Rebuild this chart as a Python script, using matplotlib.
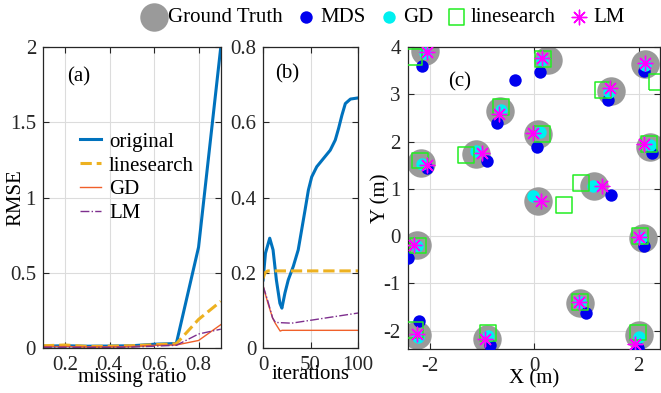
import numpy as np
import matplotlib
matplotlib.use('Agg')
import matplotlib.pyplot as plt

plt.rcParams['font.family'] = ['Liberation Serif', 'DejaVu Serif']
plt.rcParams['font.size'] = 15
plt.rcParams['axes.unicode_minus'] = False

# (a) RMSE vs missing ratio
ratio = [0.1, 0.2, 0.3, 0.4, 0.5, 0.6, 0.7, 0.8, 0.9]
rmse_original = [0.012, 0.015, 0.012, 0.013, 0.015, 0.025, 0.03, 0.67, 2.0]
rmse_linesearch = [0.015, 0.02, 0.01, 0.012, 0.015, 0.022, 0.028, 0.19, 0.31]
rmse_gd = [0.01, 0.01, 0.008, 0.008, 0.01, 0.018, 0.02, 0.05, 0.155]
rmse_lm = [0.005, 0.005, 0.004, 0.004, 0.006, 0.012, 0.018, 0.093, 0.125]

# (b) RMSE vs iterations
it_orig = [0, 2.5, 7, 10.5, 14, 17.7, 19.8, 23, 26.5, 31.8, 37, 40.6, 44.2, 47.7,
           51.2, 56.5, 63.6, 70.7, 76, 79.5, 83, 86.6, 92, 100]
val_orig = [0.181, 0.252, 0.292, 0.261, 0.181, 0.119, 0.106, 0.146, 0.181, 0.217,
            0.261, 0.314, 0.367, 0.42, 0.455, 0.482, 0.504, 0.526, 0.553, 0.584,
            0.619, 0.65, 0.662, 0.665]
it_ls = [0, 2, 5, 100]
val_ls = [0.185, 0.2, 0.205, 0.205]
it_gd = [0, 5, 10, 13, 18, 20, 100]
val_gd = [0.165, 0.12, 0.08, 0.065, 0.045, 0.047, 0.047]
it_lm = [0, 5, 10, 13, 30, 100]
val_lm = [0.165, 0.125, 0.08, 0.068, 0.066, 0.093]

# (c) node positions
gt_x = [-2.09, 0.26, 1.46, 2.12, -0.66, 0.08, -1.11, -2.17, 2.21, 1.14, 0.08,
        -2.25, 2.08, 0.87, -2.25, -0.91, 2.0]
gt_y = [3.92, 3.72, 3.07, 3.65, 2.64, 2.17, 1.74, 1.54, 1.88, 1.06, 0.74,
        -0.18, -0.05, -1.42, -2.09, -2.17, -2.09]
mds_x = [-2.15, 0.10, 1.42, 2.10, -0.72, 0.05, -0.91, -2.05, 2.25, 1.46, -0.37,
         -2.41, 2.10, 0.99, -2.20, -0.85, 1.99]
mds_y = [3.61, 3.47, 2.89, 3.49, 2.40, 1.88, 1.58, 1.44, 1.76, 0.88, 3.31,
         -0.47, -0.20, -1.62, -1.79, -2.30, -2.36]
gd_x = [-2.10, 0.15, 1.43, 2.12, -0.64, 0.11, -1.11, -2.14, 2.21, 1.12, -0.02,
        -2.25, 2.05, 0.88, -2.22, -0.88, 2.0]
gd_y = [3.88, 3.73, 3.05, 3.63, 2.66, 2.20, 1.80, 1.53, 1.93, 1.06, 0.85,
        -0.20, -0.05, -1.40, -2.13, -2.12, -2.14]
ls_x = [-2.31, 0.17, 1.32, 2.35, -0.64, 0.15, -1.31, -2.19, 2.20, 0.89, 0.57,
        -2.23, 2.03, 0.87, -2.28, -0.88, 1.99]
ls_y = [3.79, 3.75, 3.10, 3.26, 2.74, 2.17, 1.71, 1.60, 1.95, 1.12, 0.65,
        -0.20, 0.0, -1.39, -1.99, -2.06, -2.04]
lm_x = [-2.06, 0.14, 1.45, 2.12, -0.67, -0.02, -1.0, -2.06, 2.10, 1.30, 0.13,
        -2.31, 2.0, 0.86, -2.25, -0.94, 1.93]
lm_y = [3.89, 3.77, 3.14, 3.66, 2.59, 2.18, 1.76, 1.51, 1.95, 1.06, 0.74,
        -0.18, -0.01, -1.39, -2.07, -2.18, -2.28]

c_blue = '#0072BD'
c_yellow = '#EDB120'
c_red = '#F0602A'
c_purple = '#7E2F8E'
grid_kw = dict(color='#dcdcdc', linewidth=0.8)


def style_axes(ax):
    ax.tick_params(direction='in', top=True, right=True, length=4, width=0.8,
                   colors='#262626')
    ax.tick_params(axis='x', pad=6)
    ax.tick_params(axis='y', pad=5)
    for s in ax.spines.values():
        s.set_color('#262626')
        s.set_linewidth(0.9)
    ax.grid(True, **grid_kw)
    ax.set_axisbelow(True)


fig = plt.figure(figsize=(6.61, 3.93), dpi=100)
ax1 = fig.add_axes([0.065, 0.1145, 0.269, 0.7655])
ax2 = fig.add_axes([0.398, 0.1145, 0.1437, 0.7655])
ax3 = fig.add_axes([0.617, 0.112, 0.381, 0.768])

# (a)
ax1.plot(ratio, rmse_original, color=c_blue, lw=2.2, label='original')
ax1.plot(ratio, rmse_linesearch, color=c_yellow, lw=2.2, ls='--', label='linesearch')
ax1.plot(ratio, rmse_gd, color=c_red, lw=1.0, label='GD')
ax1.plot(ratio, rmse_lm, color=c_purple, lw=1.0, ls='-.', label='LM')
ax1.set_xlim(0.1, 0.9)
ax1.set_ylim(0, 2)
ax1.set_xticks([0.2, 0.4, 0.6, 0.8])
ax1.set_xticklabels(['0.2', '0.4', '0.6', '0.8'])
ax1.set_yticks([0, 0.5, 1, 1.5, 2])
ax1.set_yticklabels(['0', '0.5', '1', '1.5', '2'])
ax1.set_xlabel('missing ratio')
ax1.xaxis.set_label_coords(0.5, -0.068)
ax1.set_ylabel('RMSE')
ax1.yaxis.set_label_coords(-0.1, 0.5)
ax1.text(0.26, 1.8, '(a)', ha='center', va='center')
ax1.legend(loc='upper left', bbox_to_anchor=(0.16, 0.745), frameon=False,
           handlelength=1.0, handletextpad=0.4, labelspacing=0.2, borderaxespad=0)
style_axes(ax1)

# (b)
ax2.plot(it_orig, val_orig, color=c_blue, lw=2.2)
ax2.plot(it_ls, val_ls, color=c_yellow, lw=2.2, ls='--')
ax2.plot(it_gd, val_gd, color=c_red, lw=1.0)
ax2.plot(it_lm, val_lm, color=c_purple, lw=1.0, ls='-.')
ax2.set_xlim(0, 100)
ax2.set_ylim(0, 0.8)
ax2.set_xticks([0, 50, 100])
ax2.set_yticks([0, 0.2, 0.4, 0.6, 0.8])
ax2.set_yticklabels(['0', '0.2', '0.4', '0.6', '0.8'])
ax2.set_xlabel('iterations')
ax2.xaxis.set_label_coords(0.5, -0.055)
ax2.text(25, 0.73, '(b)', ha='center', va='center')
style_axes(ax2)

# (c)
h_gt = ax3.scatter(gt_x, gt_y, s=420, color='#9a9a9a', lw=0, label='Ground Truth', zorder=2)
h_mds = ax3.scatter(mds_x, mds_y, s=80, color='#0000ee', lw=0, label='MDS', zorder=3)
h_gd = ax3.scatter(gd_x, gd_y, s=80, color='#00f0f0', lw=0, label='GD', zorder=4)
h_ls = ax3.scatter(ls_x, ls_y, s=130, marker='s', facecolors='none',
                   edgecolors='#22ee22', linewidths=1.1, label='linesearch', zorder=5)
h_lm = ax3.scatter(lm_x, lm_y, s=110, marker=(8, 2, 0), color='#ff00ff',
                   linewidths=1.0, label='LM', zorder=6)
ax3.set_xlim(-2.42, 2.4)
ax3.set_ylim(-2.39, 4)
ax3.set_xticks([-2, 0, 2])
ax3.set_yticks([-2, -1, 0, 1, 2, 3, 4])
ax3.set_xlabel('X (m)')
ax3.xaxis.set_label_coords(0.5, -0.068)
ax3.set_ylabel('Y (m)')
ax3.yaxis.set_label_coords(-0.07, 0.5)
ax3.text(-1.43, 3.26, '(c)', ha='center', va='center')
style_axes(ax3)

fig.legend(handles=[h_gt, h_mds, h_gd, h_ls, h_lm], loc='center',
           bbox_to_anchor=(0.5795, 0.955), ncol=5, frameon=False,
           handletextpad=0.1, columnspacing=0.5, borderaxespad=0, handlelength=1.2)

fig.savefig('out.png', dpi=100)
